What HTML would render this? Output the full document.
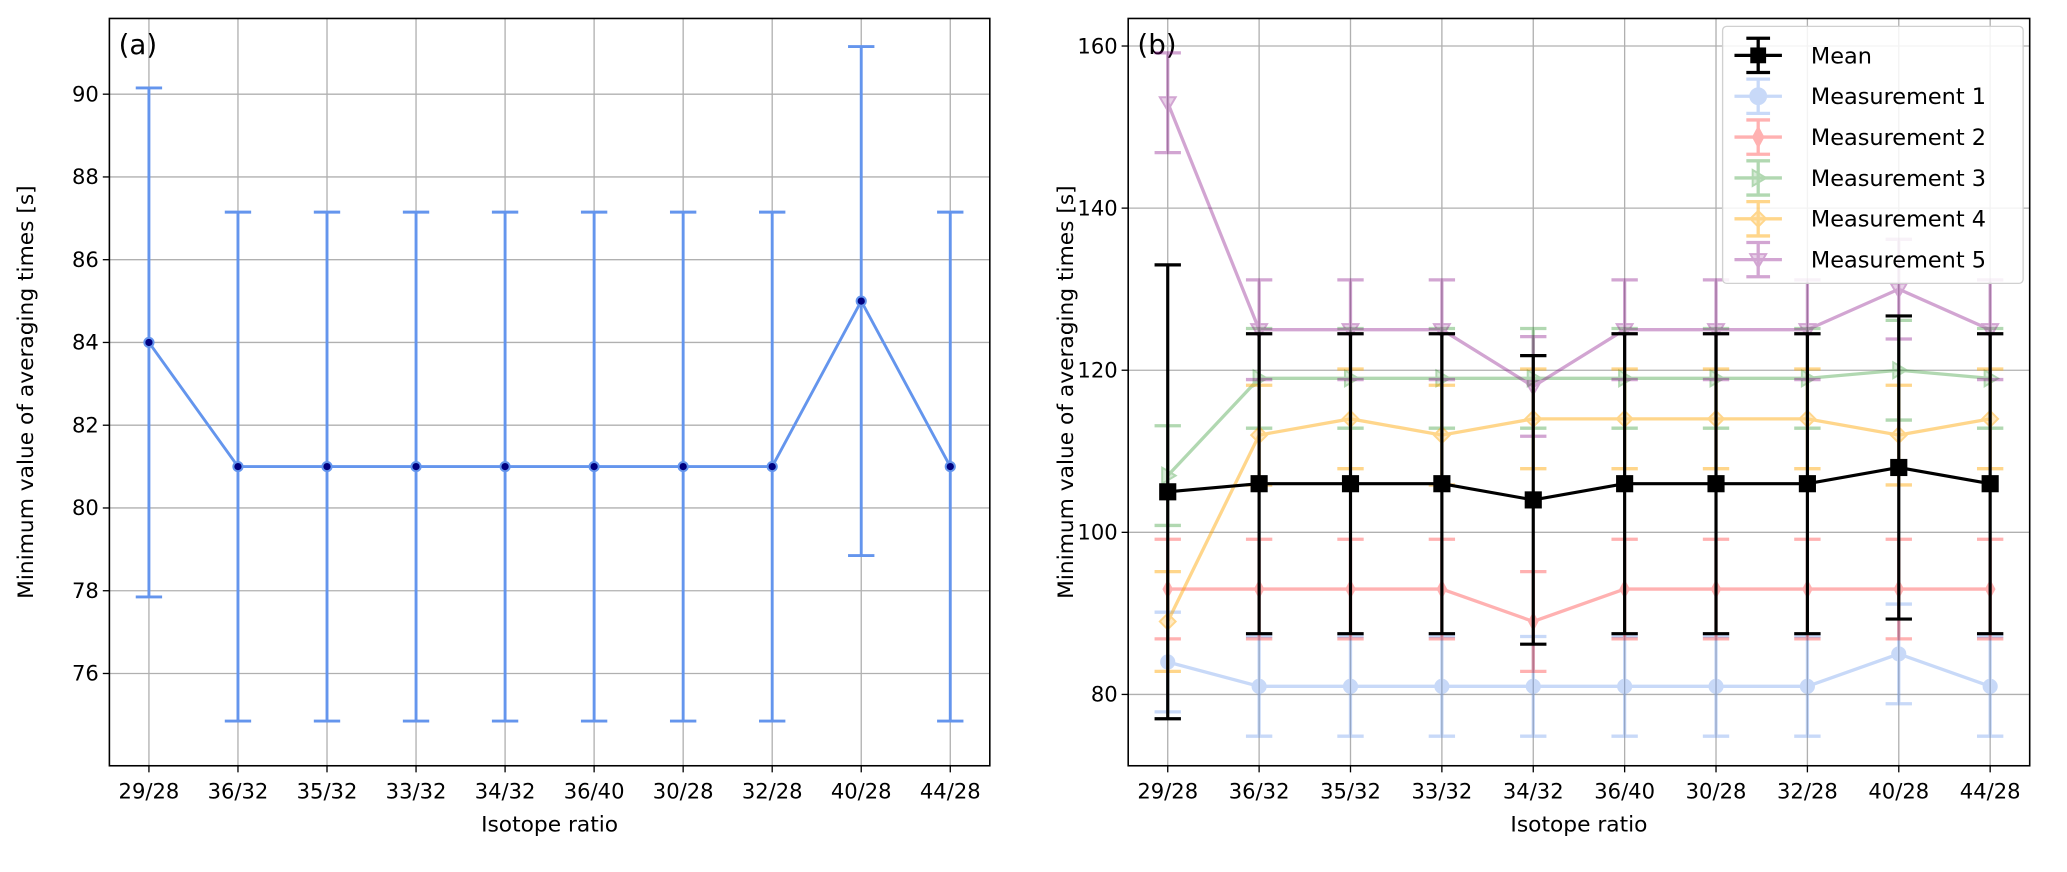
<!DOCTYPE html>
<html><head><meta charset="utf-8"><style>
html,body{margin:0;padding:0;background:#fff;}
svg{display:block;font-family:"DejaVu Sans","Liberation Sans",sans-serif;}
</style></head><body>
<svg id="fig" width="2067" height="872" viewBox="0 0 1568.3 661.6" xmlns="http://www.w3.org/2000/svg"></svg>
<script>
const categories=["29/28","36/32","35/32","33/32","34/32","36/40","30/28","32/28","40/28","44/28"];
const leftValues=[84,81,81,81,81,81,81,81,85,81];
const leftErr=[6.15,6.15,6.15,6.15,6.15,6.15,6.15,6.15,6.15,6.15];
const leftTicks=[76,78,80,82,84,86,88,90];
const meanValues=[105,106,106,106,104,106,106,106,108,106];
const meanErr=[28,18.5,18.5,18.5,17.8,18.5,18.5,18.5,18.7,18.5];
const m1Values=[84,81,81,81,81,81,81,81,85,81];
const m2Values=[93,93,93,93,89,93,93,93,93,93];
const m3Values=[107,119,119,119,119,119,119,119,120,119];
const m4Values=[89,112,114,112,114,114,114,114,112,114];
const m5Values=[153,125,125,125,118,125,125,125,130,125];
const measErr=6.15;
const rightTicks=[80,100,120,140,160];

const NS="http://www.w3.org/2000/svg";
const svg=document.getElementById('fig');
function el(tag,attrs,parent,text){const e=document.createElementNS(NS,tag);for(const k in attrs)e.setAttribute(k,attrs[k]);if(text!==undefined)e.textContent=text;(parent||svg).appendChild(e);return e;}

function panel(box,ymin,ymax,ticks,label,name){
  const g=el('g',{});
  
  
  const x=i=>box.x0+box.pad+i*(box.x1-box.x0-2*box.pad)/(categories.length-1);
  const y=v=>box.y1-(v-ymin)/(ymax-ymin)*(box.y1-box.y0);
  categories.forEach((c,i)=>{
    const l=el('line',{x1:x(i),x2:x(i),y1:box.y0,y2:box.y1,stroke:'#b0b0b0','stroke-width':1},g);
    
    el('line',{x1:x(i),x2:x(i),y1:box.y1,y2:box.y1+5,stroke:'#000','stroke-width':1},g);
    const t=el('text',{x:x(i),y:box.y1+25,'font-size':16,'text-anchor':'middle'},g,c);
    
  });
  ticks.forEach(v=>{
    el('line',{x1:box.x0,x2:box.x1,y1:y(v),y2:y(v),stroke:'#b0b0b0','stroke-width':1},g);
    el('line',{x1:box.x0-5,x2:box.x0,y1:y(v),y2:y(v),stroke:'#000','stroke-width':1},g);
    const t=el('text',{x:box.x0-8,y:y(v)+5.5,'font-size':16,'text-anchor':'end'},g,v);
    
  });
  const xt=el('text',{x:(box.x0+box.x1)/2,y:box.y1+50,'font-size':16.5,'text-anchor':'middle'},g,'Isotope ratio');
  
  const yx=box.x0-(name==='panel-a'?58:42), yy=(box.y0+box.y1)/2;
  const yt=el('text',{x:yx,y:yy,'font-size':16.5,'text-anchor':'middle',transform:`rotate(-90 ${yx} ${yy})`},g,'Minimum value of averaging times [s]');
  
  const pl=el('text',{x:box.x0+7,y:box.y0+27,'font-size':21},g,label);
  
  return {g,x,y};
}

function series(p,vals,errs,color,opacity,width,marker,ms,name,mfill){
  const g=el('g',{opacity:opacity},p.g);
  
  
  vals.forEach((v,i)=>{
    const e=Array.isArray(errs)?errs[i]:errs;
    const X=p.x(i);
    el('line',{x1:X,x2:X,y1:p.y(v-e),y2:p.y(v+e),stroke:color,'stroke-width':width},g);
    el('line',{x1:X-10,x2:X+10,y1:p.y(v-e),y2:p.y(v-e),stroke:color,'stroke-width':width},g);
    el('line',{x1:X-10,x2:X+10,y1:p.y(v+e),y2:p.y(v+e),stroke:color,'stroke-width':width},g);
  });
  el('polyline',{points:vals.map((v,i)=>p.x(i)+','+p.y(v)).join(' '),fill:'none',stroke:color,'stroke-width':width},g);
  vals.forEach((v,i)=>drawMarker(g,marker,p.x(i),p.y(v),ms,color,mfill||color));
}
function drawMarker(g,m,X,Y,s,color,fill){
  let e;
  if(m==='o') e=el('circle',{cx:X,cy:Y,r:s,fill:fill,stroke:color,'stroke-width':1.5},g);
  else if(m==='s') e=el('rect',{x:X-s,y:Y-s,width:2*s,height:2*s,fill:fill},g);
  else if(m==='d') e=el('polygon',{points:`${X},${Y-s*1.3} ${X+s*0.7},${Y} ${X},${Y+s*1.3} ${X-s*0.7},${Y}`,fill:fill,stroke:color},g);
  else if(m==='D') e=el('polygon',{points:`${X},${Y-s} ${X+s},${Y} ${X},${Y+s} ${X-s},${Y}`,fill:fill,'fill-opacity':0.5,stroke:color,'stroke-width':1.5},g);
  else if(m==='>') e=el('polygon',{points:`${X+s},${Y} ${X-s*0.7},${Y-s} ${X-s*0.7},${Y+s}`,fill:fill,'fill-opacity':0.5,stroke:color,'stroke-width':1.5},g);
  else if(m==='v') e=el('polygon',{points:`${X},${Y+s} ${X-s},${Y-s*0.7} ${X+s},${Y-s*0.7}`,fill:fill,'fill-opacity':0.5,stroke:color,'stroke-width':1.5},g);
  return e;
}

const boxA={x0:83,x1:751,y0:14,y1:581,pad:30};
const pa=panel(boxA,73.77,91.83,leftTicks,'(a)','panel-a');
series(pa,leftValues,leftErr,'#6495ED',1,2.2,'o',3.5,'series-a','#000080');
el('rect',{x:boxA.x0,y:boxA.y0,width:boxA.x1-boxA.x0,height:boxA.y1-boxA.y0,fill:'none',stroke:'#000','stroke-width':1.2},pa.g);

const boxB={x0:856,x1:1540,y0:14,y1:581,pad:30};
const pb=panel(boxB,71.2,163.4,rightTicks,'(b)','panel-b');
series(pb,m1Values,measErr,'#6495ED',0.35,2.5,'o',5,'measurement-1');
series(pb,m2Values,measErr,'#ff0000',0.3,2.5,'d',5,'measurement-2');
series(pb,m3Values,measErr,'#008000',0.3,2.5,'>',6,'measurement-3');
series(pb,m4Values,measErr,'#FFA500',0.45,2.5,'D',6,'measurement-4');
series(pb,m5Values,measErr,'#800080',0.35,2.5,'v',6,'measurement-5');
series(pb,meanValues,meanErr,'#000',1,2.4,'s',6.5,'mean-series');
el('rect',{x:boxB.x0,y:boxB.y0,width:boxB.x1-boxB.x0,height:boxB.y1-boxB.y0,fill:'none',stroke:'#000','stroke-width':1.2},pb.g);

const lg=el('g',{});


el('rect',{x:1307,y:20,width:228,height:195,rx:3,fill:'#fff','fill-opacity':0.85,stroke:'#d0d0d0'},lg);
const legendNames=['Mean','Measurement 1','Measurement 2','Measurement 3','Measurement 4','Measurement 5'];
const legendColors=['#000','#6495ED','#ff0000','#008000','#FFA500','#800080'];
const legendOp=[1,0.35,0.3,0.3,0.45,0.35];
const legendMk=['s','o','d','>','D','v'];
legendNames.forEach((n,i)=>{
  const Y=42+i*31;
  const eg=el('g',{},lg);
  
  
  const sg=el('g',{opacity:legendOp[i]},eg);
  el('line',{x1:1316,x2:1352,y1:Y,y2:Y,stroke:legendColors[i],'stroke-width':2.5},sg);
  el('line',{x1:1334,x2:1334,y1:Y-13,y2:Y+13,stroke:legendColors[i],'stroke-width':2.5},sg);
  el('line',{x1:1325,x2:1343,y1:Y-13,y2:Y-13,stroke:legendColors[i],'stroke-width':2.5},sg);
  el('line',{x1:1325,x2:1343,y1:Y+13,y2:Y+13,stroke:legendColors[i],'stroke-width':2.5},sg);
  drawMarker(sg,legendMk[i],1334,Y,6,legendColors[i],legendColors[i]);
  el('text',{x:1374,y:Y+6,'font-size':17},eg,n);
});
</script>
</body></html>
